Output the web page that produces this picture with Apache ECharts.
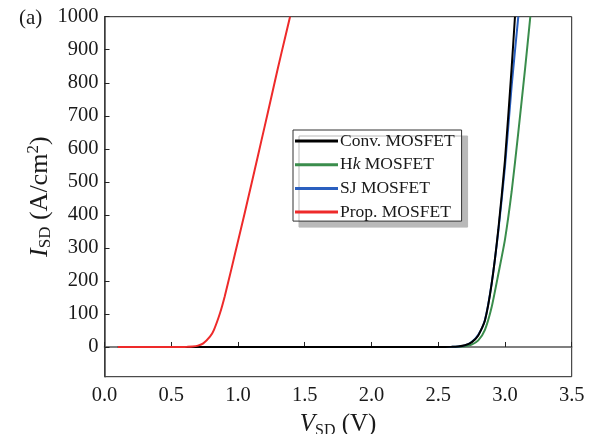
<!DOCTYPE html>
<html>
<head>
<meta charset="utf-8">
<script src="https://cdn.jsdelivr.net/npm/echarts@6/dist/echarts.min.js"></script>
<style>
html,body{margin:0;padding:0;background:#fff;}
#chart{width:596px;height:434px;}
</style>
</head>
<body>
<div id="chart"></div>
<script>
// ---- data ----
const seriesNames = ['Conv. MOSFET', 'Hk MOSFET', 'SJ MOSFET', 'Prop. MOSFET'];
const xTicks = [0, 0.5, 1.0, 1.5, 2.0, 2.5, 3.0, 3.5];
const yTicks = [0, 100, 200, 300, 400, 500, 600, 700, 800, 900, 1000];

const convV = [0.1, 1.0, 2.0, 2.5, 2.6, 2.65, 2.7, 2.75, 2.8, 2.85, 2.9, 2.95, 3.0, 3.05, 3.075];
const convI = [0, 0, 0, 0, 0.5, 1.5, 5, 14, 35, 80, 190, 355, 565, 845, 1000];

const hkV = [0.1, 1.0, 2.0, 2.5, 2.6, 2.65, 2.7, 2.75, 2.8, 2.85, 2.9, 2.95, 3.0, 3.05, 3.1, 3.15, 3.19];
const hkI = [0, 0, 0, 0, 0, 0.5, 2, 7, 20, 52, 120, 220, 325, 470, 650, 840, 1000];

const sjV = [0.1, 1.0, 2.0, 2.5, 2.6, 2.65, 2.7, 2.75, 2.8, 2.85, 2.9, 2.95, 3.0, 3.05, 3.1];
const sjI = [0, 0, 0, 0, 0.5, 1.5, 5, 15, 37, 82, 192, 350, 545, 790, 1000];

const propV = [0.1, 0.5, 0.58, 0.62, 0.66, 0.7, 0.74, 0.79, 0.82, 0.865, 0.9, 0.95, 1.0, 1.05, 1.1, 1.15, 1.2, 1.25, 1.3, 1.35, 1.39];
const propI = [0, 0, 0.1, 0.4, 1.2, 4, 11, 31, 52, 102, 152, 235, 320, 405, 492, 580, 668, 757, 846, 932, 1000];

const colors = ['#000000', '#3a8d4c', '#2a5fbf', '#ee2a2a'];

// ---- build ----
const pairs = (xs, ys) => xs.map((x, i) => [x, ys[i]]);
const FF = '"Liberation Serif", "DejaVu Serif", serif';
const TC = '#1a1a1a';

const chart = echarts.init(document.getElementById('chart'), null, {renderer: 'canvas'});

const mk = (name, xs, ys, color, z) => ({
  name: name,
  type: 'line',
  data: pairs(xs, ys),
  showSymbol: false,
  symbol: 'none',
  smooth: 0.2,
  z: z,
  lineStyle: {color: color, width: 2},
  itemStyle: {color: color},
  emphasis: {disabled: true},
  animation: false
});

const option = {
  animation: false,
  title: {
    text: '(a)', left: 14, top: 3,
    textStyle: {fontFamily: FF, fontSize: 21, fontWeight: 'normal', color: TC}
  },
  grid: {
    left: 104.5, right: 24.3, top: 16.7, bottom: 57.3,
    outerBoundsMode: 'none',
    containLabel: false,
    show: true, borderColor: '#222', borderWidth: 1, backgroundColor: 'transparent'
  },
  legend: {
    left: 293, top: 130,
    orient: 'vertical',
    data: seriesNames,
    icon: 'rect',
    itemWidth: 43, itemHeight: 3,
    itemGap: 5.7,
    padding: [2, 7, 0, 2],
    backgroundColor: '#fff',
    borderColor: '#333', borderWidth: 1,
    shadowColor: '#b9b9b9', shadowBlur: 0, shadowOffsetX: 6, shadowOffsetY: 6,
    selectedMode: false,
    formatter: function (name) {
      if (name === 'Hk MOSFET') return '{n|H}{it|k}{n| MOSFET}';
      return '{n|' + name + '}';
    },
    textStyle: {
      fontFamily: FF, fontSize: 17.5, color: TC, lineHeight: 18, padding: [0, 0, 0, -3],
      rich: {
        n: {fontFamily: FF, fontSize: 17.5, color: TC, lineHeight: 18},
        it: {fontFamily: FF, fontSize: 17.5, color: TC, fontStyle: 'italic', lineHeight: 18}
      }
    }
  },
  xAxis: {
    type: 'value',
    min: 0, max: 3.5, interval: 0.5,
    name: '{i|V}{sub|SD}{n| (V)}',
    nameLocation: 'middle',
    nameGap: 34,
    nameMoveOverlap: false,
    nameTextStyle: {
      rich: {
        i: {fontFamily: FF, fontSize: 25, fontStyle: 'italic', color: TC, lineHeight: 28, verticalAlign: 'middle'},
        n: {fontFamily: FF, fontSize: 25, color: TC, lineHeight: 28, verticalAlign: 'middle'},
        sub: {fontFamily: FF, fontSize: 16, color: TC, lineHeight: 13, verticalAlign: 'bottom'}
      }
    },
    axisLine: {show: true, lineStyle: {color: '#555', width: 1.5}},
    axisTick: {show: true, inside: true, length: 5, lineStyle: {color: '#222', width: 1}},
    axisLabel: {
      show: true, margin: 8, fontFamily: FF, fontSize: 20.5, color: TC,
      formatter: v => v.toFixed(1)
    },
    splitLine: {show: false}
  },
  yAxis: {
    type: 'value',
    min: -90, max: 1000,
    name: '{i|I}{sub|SD}{n| (A/cm}{sup|2}{n|)}',
    nameLocation: 'middle',
    nameRotate: 90,
    nameGap: 50,
    nameMoveOverlap: false,
    nameTextStyle: {
      rich: {
        i: {fontFamily: FF, fontSize: 26, fontStyle: 'italic', color: TC, lineHeight: 29, verticalAlign: 'middle'},
        n: {fontFamily: FF, fontSize: 26, color: TC, lineHeight: 29, verticalAlign: 'middle'},
        sub: {fontFamily: FF, fontSize: 17, color: TC, lineHeight: 13, verticalAlign: 'bottom'},
        sup: {fontFamily: FF, fontSize: 17, color: TC, lineHeight: 13, verticalAlign: 'top'}
      }
    },
    axisLine: {show: true, lineStyle: {color: '#444', width: 1.5}},
    axisTick: {show: true, inside: true, length: 5, customValues: yTicks, lineStyle: {color: '#222', width: 1}},
    axisLabel: {
      show: true, margin: 6, fontFamily: FF, fontSize: 20.5, color: TC,
      customValues: yTicks,
      formatter: v => String(v)
    },
    splitLine: {show: false}
  },
  series: [
    mk(seriesNames[0], convV, convI, colors[0], 4),
    mk(seriesNames[1], hkV, hkI, colors[1], 2),
    mk(seriesNames[2], sjV, sjI, colors[2], 3),
    mk(seriesNames[3], propV, propI, colors[3], 5)
  ]
};
chart.setOption(option);
</script>
</body>
</html>
